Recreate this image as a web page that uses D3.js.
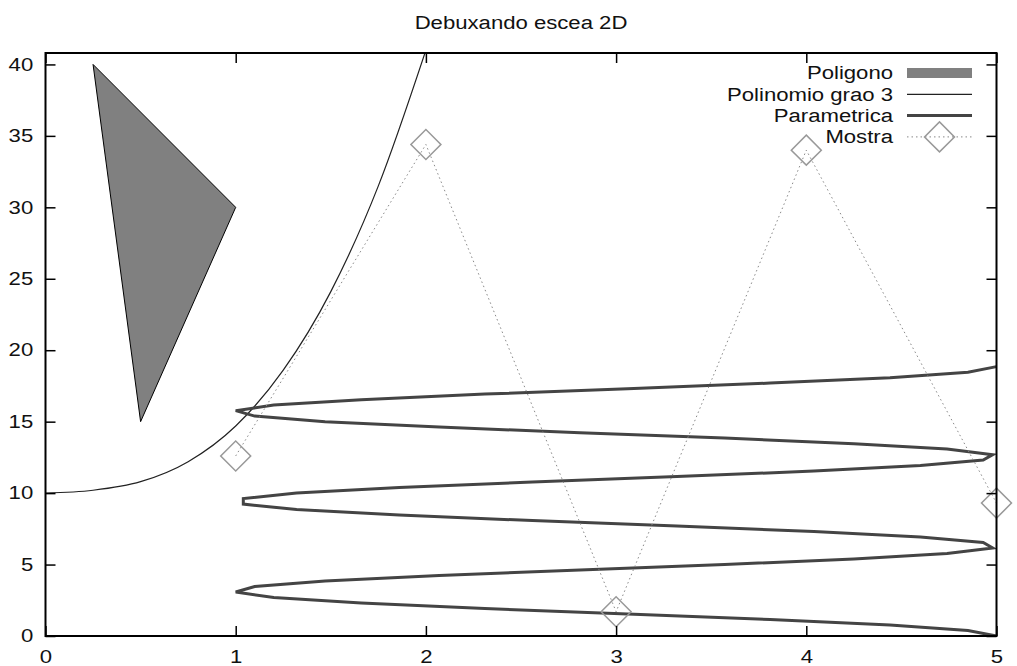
<!DOCTYPE html>
<html>
<head>
<meta charset="utf-8">
<script src="https://cdn.jsdelivr.net/npm/d3@7"></script>
<style>
  body { margin: 0; background: #fff; }
  svg text { font-family: "Liberation Sans", Arial, sans-serif; font-size: 18px; fill: #111; }
</style>
</head>
<body>
<svg id="chart" width="1017" height="666"></svg>
<script>
const title = 'Debuxando escea 2D';
const xTicks = [0, 1, 2, 3, 4, 5];
const yTicks = [0, 5, 10, 15, 20, 25, 30, 35, 40];

// poligono (triangulo recheo)
const polyX = [0.25, 1, 0.5];
const polyY = [40, 30, 15];

// polinomio grao 3
const cubicX = [0, 0.25, 0.5, 0.75, 1, 1.25, 1.5, 1.75, 2];
const cubicY = [10, 10.2, 10.8, 12.2, 14.7, 18.6, 24.1, 31.5, 41];

// curva parametrica
const paramX = [5.00, 4.85, 4.44, 3.81, 3.06, 2.31, 1.66, 1.20, 1.00, 1.10,
  1.47, 2.07, 2.81, 3.57, 4.25, 4.74, 4.98, 4.93, 4.60, 4.04,
  3.32, 2.56, 1.86, 1.32, 1.04, 1.04, 1.32, 1.86, 2.56, 3.32,
  4.04, 4.60, 4.93, 4.98, 4.74, 4.25, 3.57, 2.81, 2.07, 1.47,
  1.10, 1.00, 1.20, 1.66, 2.31, 3.06, 3.81, 4.44, 4.85, 5.00];
const paramY = [0, 0.38, 0.77, 1.15, 1.54, 1.92, 2.31, 2.69, 3.08, 3.46,
  3.85, 4.23, 4.62, 5.00, 5.39, 5.77, 6.16, 6.54, 6.92, 7.31,
  7.69, 8.08, 8.46, 8.85, 9.23, 9.62, 10.00, 10.39, 10.77, 11.16,
  11.54, 11.93, 12.31, 12.69, 13.08, 13.46, 13.85, 14.23, 14.62, 15.00,
  15.39, 15.77, 16.16, 16.54, 16.93, 17.31, 17.70, 18.08, 18.46, 18.85];

// mostra
const sampleX = [1, 2, 3, 4, 5];
const sampleY = [12.6, 34.4, 1.7, 34.0, 9.3];

const legendLabels = ['Poligono', 'Polinomio grao 3', 'Parametrica', 'Mostra'];

const svg = d3.select('#chart');
const margin = { top: 53, right: 20.5, bottom: 30, left: 45.5 };
const width = +svg.attr('width') - margin.left - margin.right;
const height = +svg.attr('height') - margin.top - margin.bottom;
const sx = 1.23; // estiramento horizontal do texto

const g = svg.append('g').attr('transform', `translate(${margin.left},${margin.top})`);

const x = d3.scaleLinear().domain([0, 5]).range([0, width]);
const y = d3.scaleLinear().domain([0, 40.8]).range([height, 0]);

svg.append('defs').append('clipPath').attr('id', 'clip')
  .append('rect').attr('width', width).attr('height', height);

// titulo
svg.append('text')
  .attr('transform', `translate(${margin.left + width / 2},29) scale(${sx},1)`)
  .attr('text-anchor', 'middle')
  .text(title);

// poligono
const polyPts = polyX.map((v, i) => [x(v), y(polyY[i])]);
g.append('path')
  .attr('d', 'M' + polyPts.join('L') + 'Z')
  .attr('fill', '#808080')
  .attr('stroke', '#000')
  .attr('stroke-width', 1);

const line = d3.line().x(d => x(d[0])).y(d => y(d[1]));
const plotArea = g.append('g').attr('clip-path', 'url(#clip)');

// polinomio
plotArea.append('path')
  .datum(cubicX.map((v, i) => [v, cubicY[i]]))
  .attr('d', d3.line().curve(d3.curveMonotoneX).x(d => x(d[0])).y(d => y(d[1])))
  .attr('fill', 'none')
  .attr('stroke', '#222')
  .attr('stroke-width', 1.2);

// parametrica
plotArea.append('path')
  .datum(paramX.map((v, i) => [v, paramY[i]]))
  .attr('d', line)
  .attr('fill', 'none')
  .attr('stroke', '#444')
  .attr('stroke-width', 3)
  .attr('stroke-linejoin', 'miter');

// mostra
plotArea.append('path')
  .datum(sampleX.map((v, i) => [v, sampleY[i]]))
  .attr('d', line)
  .attr('fill', 'none')
  .attr('stroke', '#888')
  .attr('stroke-width', 1)
  .attr('stroke-dasharray', '1.5,3');

const diamond = d3.symbol().type(d3.symbolSquare).size(450);
g.selectAll('.pt')
  .data(sampleX.map((v, i) => [v, sampleY[i]]))
  .enter().append('path')
  .attr('class', 'pt')
  .attr('d', diamond)
  .attr('transform', d => `translate(${x(d[0])},${y(d[1])}) rotate(45)`)
  .attr('fill', 'none')
  .attr('stroke', '#999')
  .attr('stroke-width', 1.5);

// eixos (marcas cara a dentro, con espello)
const yAxis = g.append('g')
  .call(d3.axisLeft(y).tickValues(yTicks).tickSize(-10).tickPadding(10).tickFormat(d3.format('d')));
const xAxis = g.append('g')
  .attr('transform', `translate(0,${height})`)
  .call(d3.axisBottom(x).tickValues(xTicks).tickSize(-10).tickPadding(14).tickFormat(d3.format('d')));
const topAxis = g.append('g')
  .call(d3.axisTop(x).tickValues(xTicks).tickSize(-10).tickFormat(''));
const rightAxis = g.append('g')
  .attr('transform', `translate(${width},0)`)
  .call(d3.axisRight(y).tickValues(yTicks).tickSize(-10).tickFormat(''));

[yAxis, xAxis, topAxis, rightAxis].forEach(a => {
  a.select('.domain').remove();
  a.selectAll('line').attr('stroke', '#000').attr('stroke-width', 1.5);
  a.selectAll('text')
    .attr('fill', '#111')
    .style('font-size', '18px')
    .style('font-family', '"Liberation Sans", Arial, sans-serif')
    .attr('transform', `scale(${sx},1)`);
});

// marco
g.append('rect')
  .attr('width', width).attr('height', height)
  .attr('fill', 'none')
  .attr('stroke', '#000')
  .attr('stroke-width', 2);

// lenda
const legendRight = 893;
const legendY0 = 73, legendDy = 21.3;
const sampleL = 907, sampleR = 972;
legendLabels.forEach((lab, i) => {
  const ly = legendY0 + i * legendDy;
  svg.append('text')
    .attr('transform', `translate(${legendRight},${ly}) scale(${sx},1)`)
    .attr('text-anchor', 'end')
    .attr('dy', '0.36em')
    .text(lab);
  if (i === 0) {
    svg.append('rect')
      .attr('x', sampleL).attr('y', ly - 5)
      .attr('width', sampleR - sampleL).attr('height', 10)
      .attr('fill', '#808080');
  } else if (i === 1) {
    svg.append('line').attr('x1', sampleL).attr('x2', sampleR).attr('y1', ly).attr('y2', ly)
      .attr('stroke', '#222').attr('stroke-width', 1.2);
  } else if (i === 2) {
    svg.append('line').attr('x1', sampleL).attr('x2', sampleR).attr('y1', ly).attr('y2', ly)
      .attr('stroke', '#444').attr('stroke-width', 3);
  } else {
    svg.append('line').attr('x1', sampleL).attr('x2', sampleR).attr('y1', ly).attr('y2', ly)
      .attr('stroke', '#888').attr('stroke-width', 1).attr('stroke-dasharray', '1.5,3');
    svg.append('path')
      .attr('d', diamond)
      .attr('transform', `translate(${(sampleL + sampleR) / 2},${ly}) rotate(45)`)
      .attr('fill', 'none').attr('stroke', '#999').attr('stroke-width', 1.5);
  }
});
</script>
</body>
</html>
